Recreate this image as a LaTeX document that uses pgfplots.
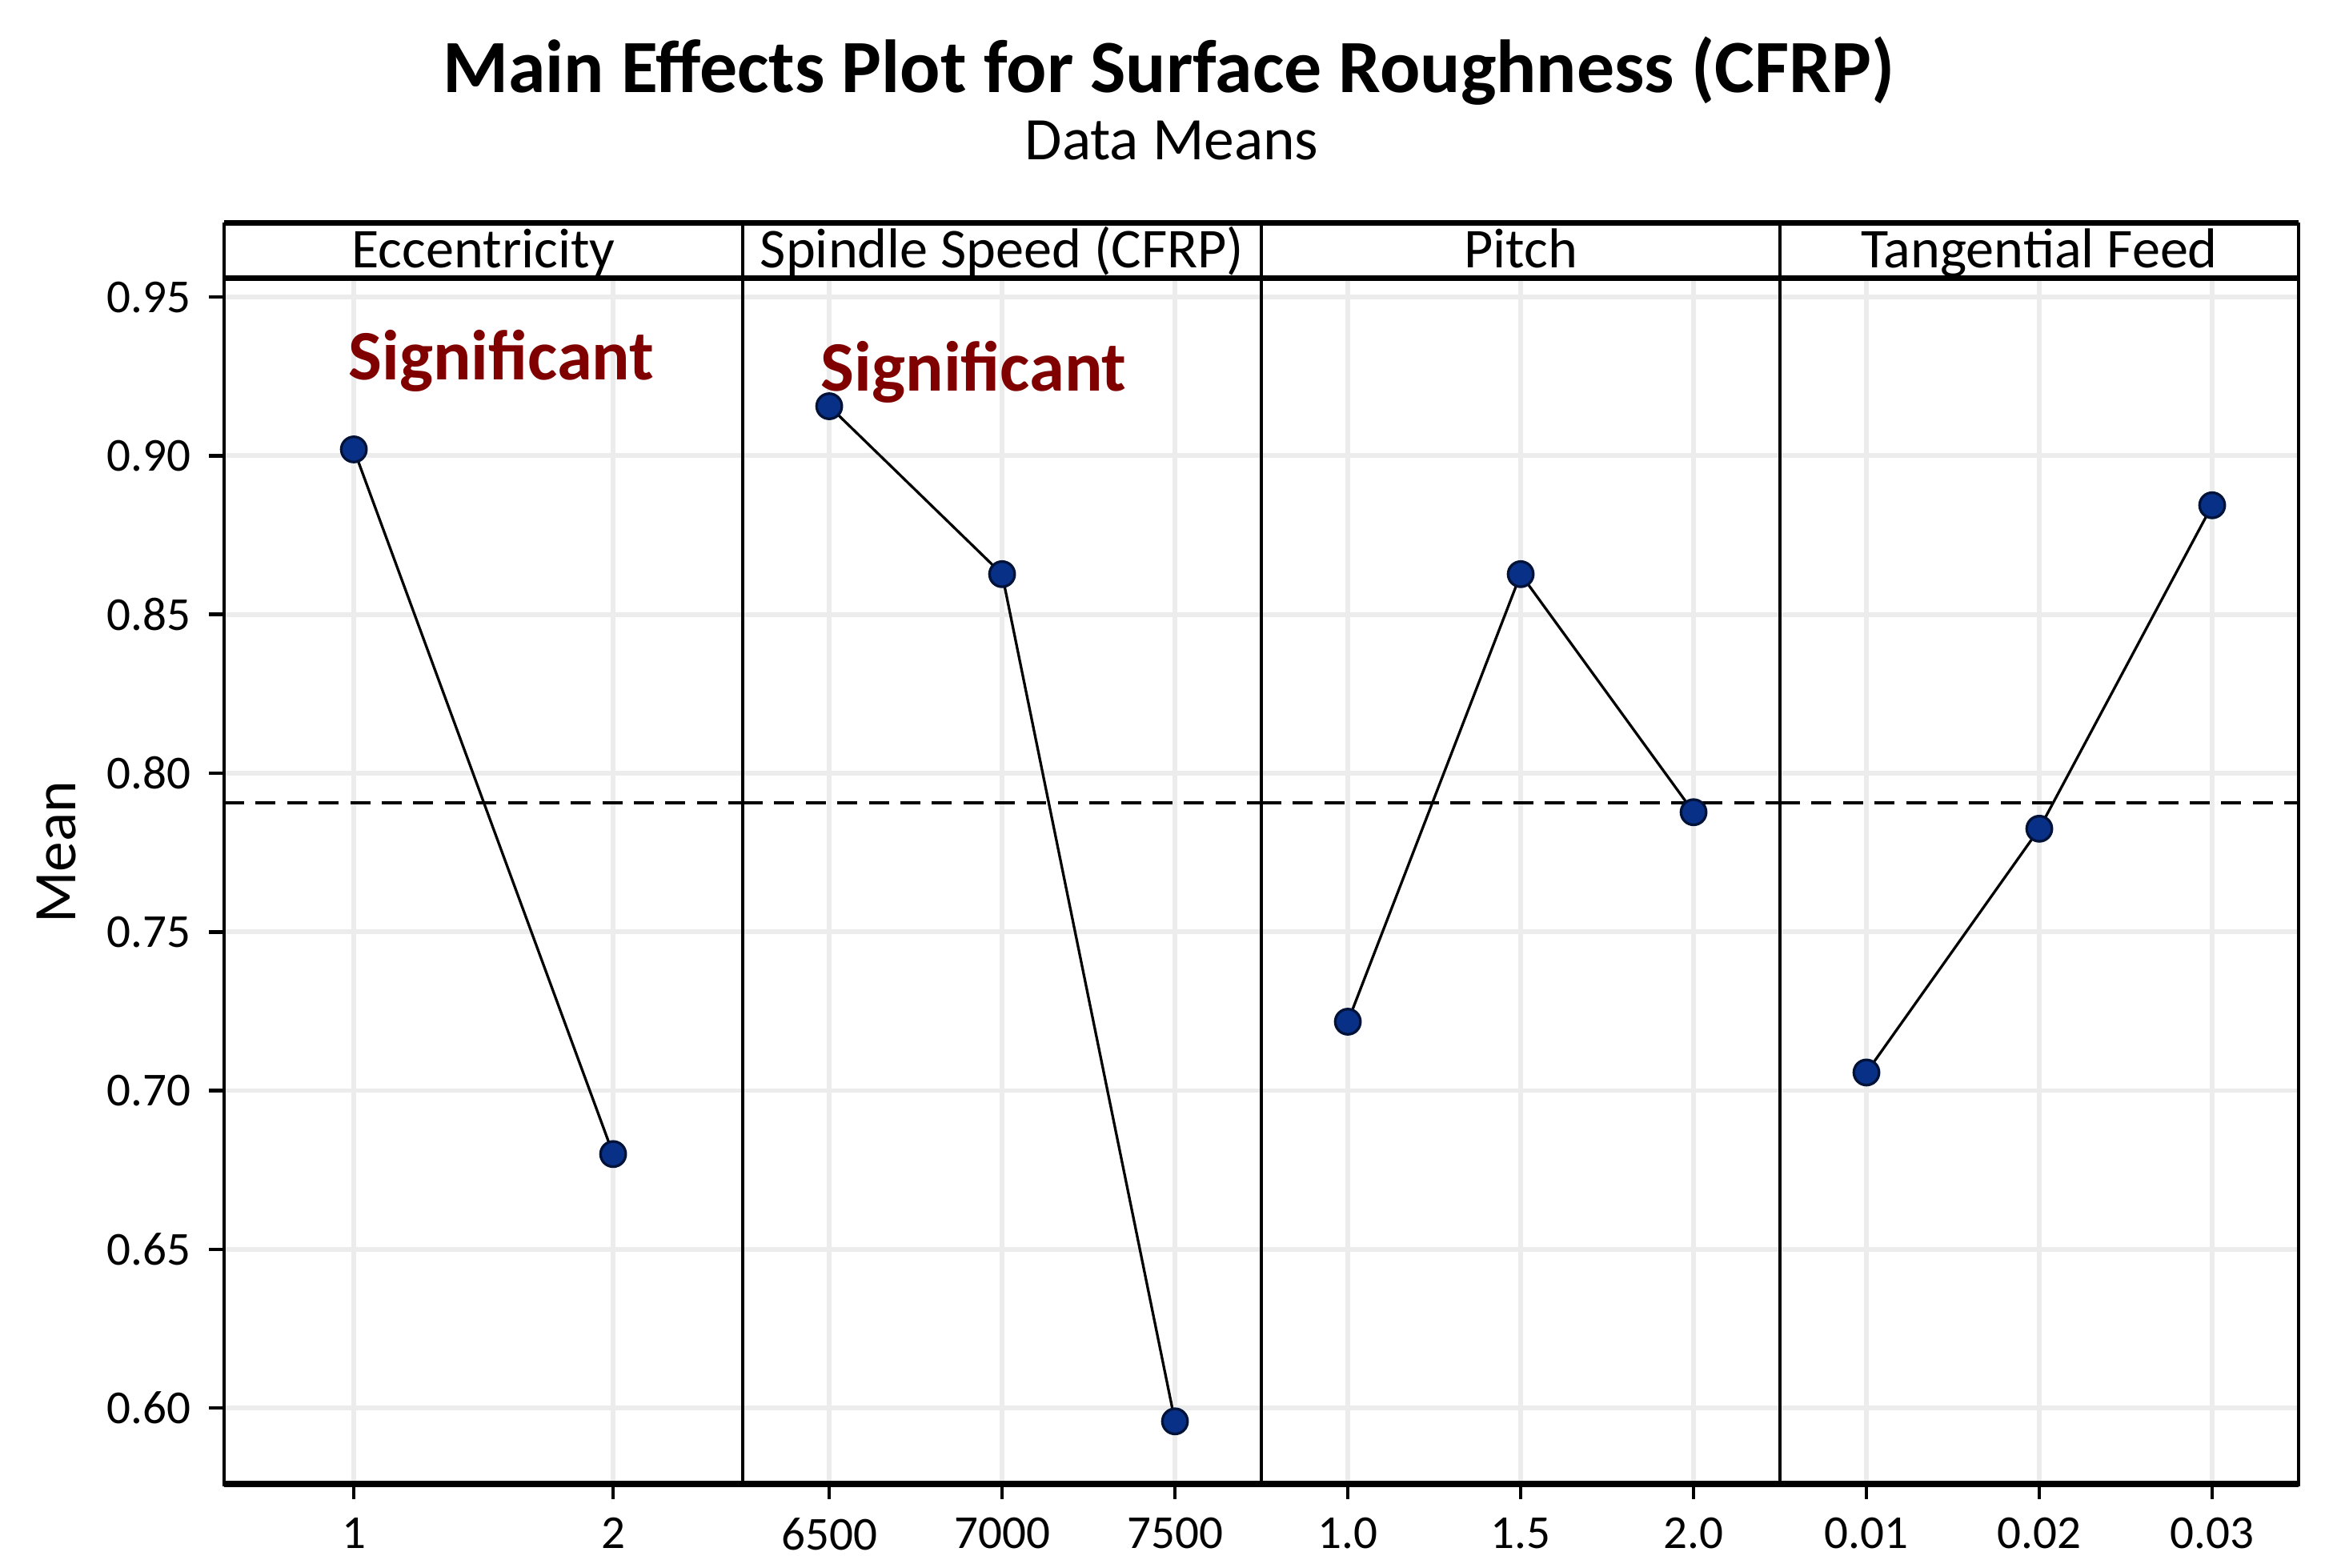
\documentclass[border=0pt]{standalone}
\usepackage{fontspec}
\setmainfont{Carlito}
\usepackage{pgfplots}
\pgfplotsset{compat=1.18}
\usepgfplotslibrary{groupplots}
\usetikzlibrary{calc}
\definecolor{sigred}{RGB}{128,0,0}
\definecolor{dotfill}{RGB}{8,48,135}
\definecolor{dotdraw}{RGB}{0,18,55}
\definecolor{gridgray}{RGB}{236,236,236}
\pgfplotsset{
  meanline/.style={black, line width=0.6pt, dash pattern=on 3.8pt off 2.2pt},
  effect/.style={black, line width=0.5pt, mark=*, mark size=2.4pt,
    mark options={solid, fill=dotfill, draw=dotdraw, line width=0.5pt}},
}
\newcommand{\sig}{\fontsize{13.5}{15}\selectfont\bfseries}
\begin{document}
\begin{tikzpicture}
\begin{groupplot}[
  group style={group size=4 by 1, horizontal sep=0pt, group name=G},
  scale only axis, width=3.47cm, height=8.07cm,
  ymin=0.576, ymax=0.956,
  ytick={0.60,0.65,0.70,0.75,0.80,0.85,0.90,0.95},
  yticklabels={0.60,0.65,0.70,0.75,0.80,0.85,0.90,0.95},
  scaled ticks=false,
  xmajorgrids, ymajorgrids,
  grid style={gridgray, line width=0.9pt},
  axis line style={line width=0.7pt},
  tick align=outside, major tick length=0.1cm,
  tick style={black, line width=0.7pt},
  xtick pos=lower, ytick pos=left,
  ticklabel style={font=\fontsize{9}{10}\selectfont},
]
% Eccentricity
\nextgroupplot[xmin=0.5, xmax=2.5, xtick={1,2}, xticklabels={1,2},
  ylabel={Mean},
  every axis y label/.style={at={(axis description cs:-0.323,0.524)},
    rotate=90, anchor=center, font=\fontsize{11.5}{13}\selectfont}]
\addplot[meanline] coordinates {(0.5,0.7906) (2.5,0.7906)};
\addplot[effect] coordinates {(1,0.902) (2,0.680)};
\node[anchor=west, text=sigred, font=\sig, inner sep=0] at (axis cs:0.975,0.930) {Significant};
% Spindle speed
\nextgroupplot[xmin=6250, xmax=7750, xtick={6500,7000,7500},
  xticklabels={6500,7000,7500}, yticklabel=\empty, y tick style={draw=none}]
\addplot[meanline] coordinates {(6250,0.7906) (7750,0.7906)};
\addplot[effect] coordinates {(6500,0.9156) (7000,0.8627) (7500,0.5958)};
\node[anchor=west, text=sigred, font=\sig, inner sep=0] at (axis cs:6473,0.9264) {Significant};
% Pitch
\nextgroupplot[xmin=0.75, xmax=2.25, xtick={1.0,1.5,2.0},
  xticklabels={1.0,1.5,2.0}, yticklabel=\empty, y tick style={draw=none}]
\addplot[meanline] coordinates {(0.75,0.7906) (2.25,0.7906)};
\addplot[effect] coordinates {(1.0,0.7217) (1.5,0.8627) (2.0,0.7877)};
% Tangential feed
\nextgroupplot[xmin=0.005, xmax=0.035, xtick={0.01,0.02,0.03},
  xticklabels={0.01,0.02,0.03}, yticklabel=\empty, y tick style={draw=none}]
\addplot[meanline] coordinates {(0.005,0.7906) (0.035,0.7906)};
\addplot[effect] coordinates {(0.01,0.7057) (0.02,0.7825) (0.03,0.8844)};
\end{groupplot}

% heavier bottom edge and strip headers
\draw[line width=1.2pt] (G c1r1.south west) -- (G c4r1.south east);
\draw[line width=0.7pt] (G c1r1.north west) -- ++(0,0.37cm);
\draw[line width=0.7pt] (G c4r1.north east) -- ++(0,0.37cm);
\foreach \c in {2,3,4}
  \draw[line width=0.7pt] (G c\c r1.north west) -- ++(0,0.37cm);
\draw[line width=1pt] (G c1r1.north west) -- (G c4r1.north east);
\draw[line width=1pt] ($(G c1r1.north west)+(0,0.37cm)$) -- ($(G c4r1.north east)+(0,0.37cm)$);
\begin{scope}[every node/.style={anchor=base, font=\fontsize{10.7}{12}\selectfont}]
\node at ($(G c1r1.north)+(0,0.07cm)$) {Eccentricity};
\node at ($(G c2r1.north)+(0,0.07cm)$) {Spindle Speed (CFRP)};
\node at ($(G c3r1.north)+(0,0.07cm)$) {Pitch};
\node at ($(G c4r1.north)+(0,0.07cm)$) {Tangential Feed};
\end{scope}

\coordinate (TL) at ($(G c1r1.north west)+(-1.50cm,1.86cm)$);
\node[anchor=base, font=\fontsize{14.3}{16}\selectfont\bfseries] at ($(TL)+(7.82cm,-0.62cm)$)
  {Main Effects Plot for Surface Roughness (CFRP)};
\node[anchor=base, font=\fontsize{11.5}{13}\selectfont] at ($(TL)+(7.84cm,-1.07cm)$)
  {Data Means};

\pgfresetboundingbox
\path[use as bounding box] (TL) rectangle ($(G c4r1.south east)+(0.23cm,-0.56cm)$);
\end{tikzpicture}
\end{document}
